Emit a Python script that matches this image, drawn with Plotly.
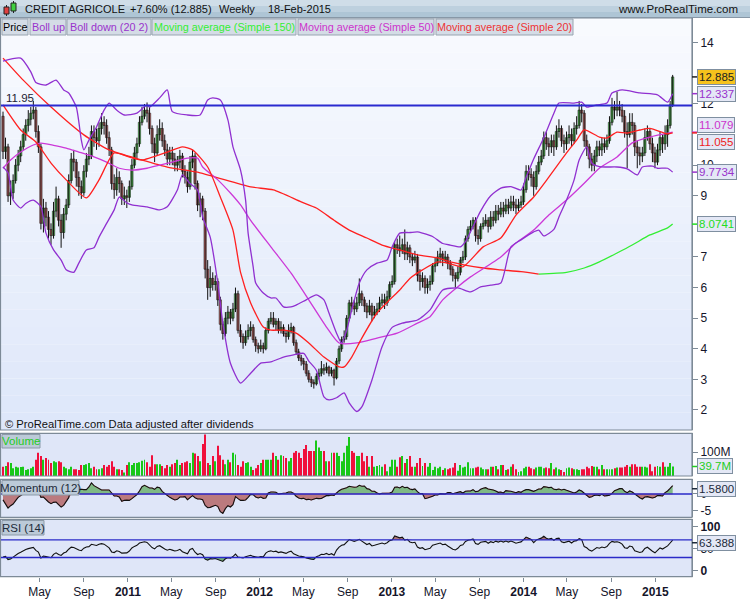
import numpy as np
import pandas as pd
import plotly.graph_objects as go

# ---------------- data ----------------
START_DATE = "2010-01-20"
FIRST_OPEN = 11.6
# weeks before the visible range, needed only for momentum / RSI warm-up (estimated)
PRE_CLOSE = [12.8, 12.4, 12.2, 13.4, 13.2, 12.6, 12.5, 12.0, 11.3, 11.1, 11.0, 11.3, 11.5, 11.7]

CLOSE = [
    10.45, 10.6, 9.0, 9.1, 9.5, 10.0, 10.3, 10.6, 11.0, 11.3,
    11.5, 11.7, 11.8, 11.1, 10.6, 8.1, 8.6, 8.3, 7.9, 7.7,
    8.5, 8.9, 8.2, 7.8, 8.4, 8.7, 9.5, 10.2, 10.1, 9.6,
    9.3, 9.1, 9.8, 10.2, 10.3, 11.1, 10.9, 10.8, 11.2, 11.4,
    11.3, 10.9, 10.5, 9.4, 9.2, 9.6, 9.4, 8.9, 9.0, 8.95,
    9.3, 10.0, 10.4, 10.7, 11.4, 11.6, 11.8, 11.7, 11.2, 10.7,
    10.4, 11.0, 11.2, 10.8, 10.5, 10.2, 10.4, 10.2, 10.0, 10.1,
    10.3, 9.8, 9.6, 9.3, 10.1, 10.3, 9.4, 8.7, 8.9, 8.5,
    6.6, 6.0, 6.3, 6.1, 6.2, 5.6, 4.8, 4.5, 5.0, 5.2,
    5.0, 5.3, 5.8, 4.6, 4.4, 4.2, 4.4, 4.6, 4.7, 4.3,
    4.1, 4.0, 4.1, 4.0, 4.6, 4.9, 5.0, 4.8, 4.9, 4.6,
    4.7, 4.5, 4.4, 4.6, 4.7, 4.2, 3.9, 3.7, 3.6, 3.5,
    3.2, 3.0, 2.9, 2.85, 3.1, 3.2, 3.35, 3.3, 3.4, 3.2,
    3.3, 3.05, 3.6, 4.0, 4.3, 4.4, 5.0, 5.5, 5.4, 5.3,
    5.5, 5.8, 5.6, 5.4, 5.2, 5.4, 5.1, 5.2, 5.3, 5.5,
    5.6, 5.5, 5.7, 6.1, 6.2, 7.4, 7.3, 7.2, 7.4, 7.1,
    7.3, 7.0, 6.9, 7.0, 6.4, 6.2, 6.3, 6.0, 6.1, 6.2,
    6.7, 6.8, 7.0, 7.1, 6.9, 7.0, 6.8, 6.6, 6.4, 6.3,
    6.5, 6.9, 7.0, 7.6, 7.9, 8.0, 8.2, 7.7, 7.6, 8.0,
    8.1, 8.2, 8.0, 8.3, 8.2, 8.5, 8.4, 8.6, 8.5, 8.7,
    8.6, 8.8, 8.7, 8.6, 8.7, 8.8, 9.2, 9.8, 9.7, 9.6,
    9.3, 9.8, 10.1, 10.3, 10.9, 10.7, 10.6, 10.8, 10.6, 11.1,
    11.2, 10.8, 10.7, 10.9, 11.0, 10.8, 11.2, 11.3, 11.8, 11.7,
    10.8, 10.6, 10.2, 10.0, 10.3, 10.6, 10.5, 10.7, 10.6, 10.8,
    11.4, 11.9, 11.8, 11.9, 11.8, 11.6, 11.1, 11.0, 11.4, 11.3,
    10.6, 10.4, 10.3, 10.4, 10.9, 11.1, 10.7, 10.4, 10.1, 10.5,
    10.9, 10.7, 11.0, 11.3, 11.97, 12.885,
]
HIGH = [
    11.75, 10.9, 10.7, 9.5, 9.7, 10.2, 10.5, 10.8, 11.2, 11.5,
    11.8, 11.9, 12.1, 11.9, 11.3, 10.7, 8.9, 8.8, 8.5, 8.1,
    8.8, 9.3, 9.0, 8.4, 8.6, 8.9, 9.7, 10.4, 10.5, 10.2,
    9.8, 9.5, 10.0, 10.4, 10.6, 11.3, 11.3, 11.2, 11.4, 11.7,
    11.6, 11.5, 11.1, 10.6, 9.7, 9.9, 9.8, 9.5, 9.3, 9.2,
    9.5, 10.2, 10.6, 10.9, 11.6, 11.9, 12.0, 12.05, 11.9, 11.3,
    10.9, 11.3, 11.5, 11.4, 11.0, 10.7, 10.6, 10.6, 10.4, 10.3,
    10.5, 10.4, 10.0, 9.8, 10.3, 10.5, 10.4, 9.5, 9.1, 9.0,
    8.6, 6.9, 6.7, 6.5, 6.4, 6.3, 5.7, 4.9, 5.2, 5.4,
    5.3, 5.5, 6.0, 5.9, 4.8, 4.5, 4.6, 4.8, 4.9, 4.8,
    4.4, 4.2, 4.3, 4.2, 4.7, 5.0, 5.2, 5.2, 5.0, 5.0,
    4.9, 4.8, 4.6, 4.8, 4.85, 4.75, 4.3, 4.0, 3.8, 3.7,
    3.6, 3.3, 3.1, 3.0, 3.2, 3.35, 3.6, 3.5, 3.55, 3.45,
    3.4, 3.35, 3.7, 4.1, 4.4, 4.6, 5.1, 5.6, 5.7, 5.6,
    5.7, 6.3, 5.9, 5.7, 5.5, 5.6, 5.5, 5.4, 5.5, 5.7,
    5.8, 5.8, 5.9, 6.2, 6.4, 7.5, 7.6, 7.7, 7.6, 7.9,
    7.5, 7.4, 7.1, 7.2, 7.1, 6.6, 6.5, 6.4, 6.3, 6.4,
    6.8, 7.0, 7.2, 7.3, 7.2, 7.2, 7.1, 6.9, 6.7, 6.5,
    6.7, 7.0, 7.2, 7.7, 8.0, 8.2, 8.3, 8.3, 7.9, 8.1,
    8.3, 8.4, 8.3, 8.5, 8.5, 8.7, 8.7, 8.8, 8.8, 8.9,
    8.9, 9.0, 9.0, 8.9, 8.9, 9.0, 9.4, 10.0, 10.0, 9.9,
    9.8, 10.0, 10.3, 10.5, 11.1, 11.1, 10.9, 11.0, 11.0, 11.3,
    11.5, 11.3, 11.0, 11.1, 11.3, 11.2, 11.4, 11.6, 12.1, 12.0,
    11.8, 11.0, 10.7, 10.4, 10.5, 10.8, 10.8, 10.9, 10.9, 11.0,
    11.6, 12.2, 12.1, 12.4, 12.1, 12.0, 11.8, 11.4, 11.7, 11.7,
    11.4, 10.8, 10.6, 10.6, 11.2, 11.3, 11.2, 10.9, 10.6, 10.7,
    11.1, 11.0, 11.3, 11.5, 12.1, 12.95,
]
LOW = [
    10.2, 10.2, 8.8, 8.7, 8.9, 9.4, 9.8, 10.1, 10.5, 10.8,
    11.1, 11.3, 11.5, 10.9, 10.4, 7.9, 7.8, 8.0, 7.6, 7.4,
    7.6, 8.3, 8.0, 7.3, 7.6, 8.2, 8.6, 9.4, 9.8, 9.3,
    9.0, 8.9, 9.0, 9.6, 10.0, 10.2, 10.6, 10.5, 10.6, 11.0,
    11.0, 10.7, 10.3, 9.2, 8.9, 9.0, 9.1, 8.7, 8.7, 8.6,
    8.8, 9.2, 9.9, 10.2, 10.6, 11.3, 11.5, 11.4, 11.0, 10.4,
    10.1, 10.3, 10.8, 10.6, 10.3, 10.0, 10.0, 10.0, 9.8, 9.8,
    9.9, 9.6, 9.4, 9.1, 9.2, 9.9, 9.2, 8.5, 8.3, 8.2,
    6.3, 5.6, 5.7, 5.9, 5.9, 5.4, 4.6, 4.3, 4.4, 4.8,
    4.8, 4.9, 5.2, 4.5, 4.2, 4.0, 4.1, 4.3, 4.4, 4.2,
    3.9, 3.85, 3.9, 3.85, 3.95, 4.5, 4.8, 4.7, 4.6, 4.5,
    4.5, 4.4, 4.2, 4.3, 4.5, 4.1, 3.8, 3.6, 3.45, 3.3,
    3.1, 2.9, 2.75, 2.7, 2.8, 3.0, 3.1, 3.15, 3.2, 3.1,
    3.1, 2.8, 3.0, 3.5, 3.9, 4.2, 4.3, 4.9, 5.2, 5.1,
    5.2, 5.4, 5.4, 5.2, 5.0, 5.1, 4.9, 5.0, 5.1, 5.2,
    5.4, 5.3, 5.4, 5.6, 6.0, 6.1, 7.1, 7.0, 7.1, 6.9,
    6.9, 6.8, 6.7, 6.8, 6.2, 5.9, 6.0, 5.8, 5.8, 5.9,
    6.1, 6.5, 6.7, 6.8, 6.7, 6.8, 6.6, 6.4, 6.2, 6.0,
    6.2, 6.4, 6.8, 6.9, 7.5, 7.8, 7.9, 7.5, 7.4, 7.5,
    7.9, 8.0, 7.8, 7.9, 8.0, 8.1, 8.2, 8.3, 8.3, 8.4,
    8.4, 8.5, 8.5, 8.4, 8.5, 8.6, 8.7, 9.1, 9.5, 9.3,
    9.0, 9.2, 9.7, 10.0, 10.2, 10.5, 10.3, 10.4, 10.3, 10.5,
    10.9, 10.6, 10.4, 10.5, 10.7, 10.6, 10.7, 11.0, 11.2, 11.4,
    10.6, 10.3, 9.9, 9.8, 9.8, 10.1, 10.3, 10.3, 10.4, 10.5,
    10.7, 11.3, 11.5, 11.6, 11.6, 11.4, 10.9, 9.9, 10.9, 11.0,
    10.3, 9.9, 10.0, 10.1, 10.3, 10.8, 10.5, 10.1, 9.9, 10.0,
    10.3, 10.4, 10.5, 10.6, 11.2, 11.9,
]
VOLUME_M = [
    39, 42, 57, 54, 32, 39, 35, 37, 39,
    25, 28, 32, 39, 68, 97, 83, 68, 75, 68,
    54, 61, 57, 61, 57, 39, 32, 28, 39, 28,
    28, 25, 46, 46, 49, 54, 32, 39, 28, 28,
    32, 46, 39, 46, 61, 39, 28, 28, 25,
    15, 46, 57, 46, 54, 54, 57, 64, 68, 57,
    39, 86, 49, 49, 49, 42, 32, 46, 39, 49,
    54, 68, 46, 54, 57, 61, 54, 97, 94, 83,
    61, 133, 173, 54, 46, 83, 61, 126, 86, 68,
    49, 68, 57, 97, 90, 46, 39, 61, 54, 57,
    39, 25, 32, 46, 54, 68, 68, 68, 68, 97,
    83, 68, 86, 83, 75, 61, 75, 97, 104, 97,
    75, 112, 129, 104, 104, 104, 148, 119, 104, 104,
    61, 61, 97, 97, 97, 83, 61, 97, 126, 162,
    104, 97, 83, 83, 97, 61, 83, 39, 83,
    39, 42, 46, 39, 49, 20, 39, 68, 68, 39,
    78, 83, 54, 71, 83, 39, 39, 54, 75, 42,
    54, 39, 54, 25, 39, 32, 39, 25, 32, 28,
    32, 35, 54, 22, 46, 35, 39, 57, 32, 32,
    35, 39, 35, 28, 28, 28, 39, 39, 42, 28,
    46, 46, 25, 28, 39, 49, 28, 17, 20, 32,
    39, 39, 32, 28, 35, 39, 39, 32, 35, 32,
    54, 28, 35, 28, 25, 17, 32, 35, 32, 28,
    28, 25, 28, 28, 39, 32, 42, 39, 39, 28,
    46, 28, 28, 28, 28, 32, 35, 35, 35, 39,
    46, 39, 49, 49, 39, 39, 39, 39, 35, 49,
    20, 39, 42, 39, 57, 39, 39, 54, 39.7,
]

# indicator lines: week index -> value
BB_UP_W = [0, 7, 11, 13, 17, 21, 24, 26, 29, 31, 32, 34, 37, 40, 42, 45, 48, 53, 57, 58,
           62, 65, 67, 73, 78, 81, 83, 86, 89, 91, 94, 96, 97, 99, 100, 103, 106, 108, 111, 114,
           116, 120, 124, 127, 129, 132, 134, 136, 138, 141, 144, 148, 152, 154, 157, 161, 164, 166, 170, 174,
           177, 181, 183, 185, 189, 193, 197, 201, 205, 207, 210, 214, 218, 220, 226, 229, 231, 235, 239, 241,
           245, 252, 259, 263, 265]
BB_UP_V = [13.4, 13.5, 13.05, 12.7, 12.62, 12.78, 12.46, 12.36, 11.9, 10.82, 10.5, 10.82, 11.25, 11.8, 12.03, 11.8, 11.64, 11.7, 11.97, 11.9,
           12.2, 12.46, 11.75, 11.64, 11.64, 12.13, 12.2, 12.13, 11.48, 10.6, 9.84, 8.86, 7.78, 6.68, 6.15, 5.82, 5.66, 5.66, 5.37, 5.37,
           5.43, 5.6, 5.76, 5.6, 5.17, 4.51, 4.19, 4.6, 5.27, 6.15, 6.58, 6.8, 6.9, 7.33, 7.78, 7.8, 7.82, 7.78, 7.67, 7.44,
           7.39, 7.33, 7.5, 7.82, 8.5, 9.0, 9.25, 9.3, 9.19, 9.6, 10.2, 10.9, 11.7, 12.03, 12.03, 12.06, 11.9, 11.97, 12.03, 12.36,
           12.46, 12.36, 12.3, 12.06, 12.337]
BB_LO_W = [0, 2, 4, 7, 9, 12, 15, 17, 20, 23, 25, 28, 30, 33, 36, 38, 41, 44, 46, 49,
           51, 57, 62, 65, 69, 71, 74, 77, 79, 82, 85, 87, 90, 94, 98, 102, 106, 111, 115, 119,
           121, 124, 127, 129, 132, 135, 137, 140, 142, 146, 150, 154, 158, 164, 169, 174, 180, 185, 189, 193,
           197, 201, 205, 210, 212, 214, 218, 220, 223, 226, 228, 231, 233, 236, 239, 243, 247, 251, 253, 257,
           259, 263, 265]
BB_LO_V = [9.94, 9.75, 8.86, 8.6, 8.75, 8.86, 8.64, 7.78, 7.23, 6.9, 6.58, 6.5, 6.8, 7.23, 7.3, 7.65, 8.1, 8.54, 8.96, 8.77,
           8.7, 8.64, 8.54, 8.64, 9.19, 9.68, 9.4, 9.19, 8.31, 7.65, 6.15, 4.84, 3.53, 2.88, 3.2, 3.53, 3.57, 3.73, 3.8, 3.85,
           3.6, 3.3, 2.43, 2.33, 2.4, 2.56, 2.23, 1.95, 2.1, 2.98, 4.07, 4.7, 4.84, 4.94, 5.27, 5.92, 5.99, 5.86, 6.02, 6.08,
           6.15, 7.33, 7.56, 7.82, 7.88, 7.69, 7.9, 8.31, 8.86, 9.52, 10.17, 10.6, 10.07, 9.95, 9.94, 9.94, 9.88, 9.68, 9.94, 9.97,
           9.9, 9.9, 9.7734]
MA50_W = [0, 3, 7, 12, 15, 20, 25, 30, 36, 41, 46, 51, 57, 62, 67, 73, 77, 79, 85, 90,
          94, 98, 106, 114, 121, 128, 133, 140, 148, 156, 164, 169, 174, 180, 185, 197, 203, 210, 216, 223,
          230, 236, 243, 249, 256, 265]
MA50_V = [9.9, 10.17, 10.43, 10.66, 10.72, 10.65, 10.56, 10.43, 10.27, 10.1, 9.9, 9.84, 9.9, 10.0, 10.1, 10.23, 10.23, 9.94, 9.52, 9.09,
          8.7, 8.2, 7.33, 6.47, 5.6, 4.71, 4.19, 4.19, 4.35, 4.51, 4.84, 5.05, 5.6, 6.03, 6.35, 7.0, 7.46, 7.88, 8.37, 8.86,
          9.41, 9.9, 10.27, 10.73, 10.92, 11.079]
MA20_W = [0, 7, 13, 19, 25, 33, 38, 44, 51, 55, 65, 71, 75, 81, 86, 91, 94, 98, 103, 106,
          111, 116, 121, 127, 133, 135, 138, 142, 148, 153, 157, 161, 166, 172, 176, 182, 190, 197, 203, 210,
          216, 223, 227, 230, 236, 239, 243, 247, 252, 256, 263, 265]
MA20_V = [11.97, 11.15, 10.76, 10.07, 9.52, 8.93, 9.52, 10.4, 10.24, 10.17, 10.43, 10.6, 10.5, 9.94, 8.96, 7.88, 6.5, 5.5, 4.71, 4.61,
          4.61, 4.51, 4.19, 3.73, 3.41, 3.41, 3.73, 4.35, 5.17, 5.6, 5.92, 6.3, 6.58, 6.84, 6.8, 6.68, 7.33, 7.62, 8.37, 8.96,
          9.61, 10.4, 10.82, 11.15, 10.92, 10.89, 11.08, 11.05, 11.15, 11.2, 11.02, 11.055]
MA150_W = [0, 8, 19, 32, 42, 55, 65, 78, 98, 107, 118, 124, 131, 137, 144, 150, 157, 164, 172, 177,
           190, 197, 205, 212, 223, 230, 236, 243, 249, 256, 263, 265]
MA150_V = [13.5, 12.78, 11.9, 10.99, 10.5, 10.17, 9.94, 9.75, 9.29, 9.19, 8.8, 8.6, 8.2, 7.88, 7.62, 7.39, 7.23, 7.07, 6.97, 6.84,
           6.64, 6.58, 6.52, 6.44, 6.5, 6.64, 6.84, 7.13, 7.39, 7.72, 7.95, 8.0741]

RESISTANCE = 11.95
PRICE_TICKS = [2, 3, 4, 5, 6, 7, 9, 10, 12, 14]   # 8, 11 and 13 sit under the value boxes
X_TICK_DATES = ["2010-05-01", "2010-09-01", "2011-01-01", "2011-05-01", "2011-09-01", "2012-01-01",
                "2012-05-01", "2012-09-01", "2013-01-01", "2013-05-01", "2013-09-01", "2014-01-01",
                "2014-05-01", "2014-09-01", "2015-01-01"]
X_TICK_TEXT = ["May", "Sep", "<b>2011</b>", "May", "Sep", "<b>2012</b>", "May", "Sep", "<b>2013</b>",
               "May", "Sep", "<b>2014</b>", "May", "Sep", "<b>2015</b>"]

# ---------------- derived series ----------------
dates = pd.date_range(START_DATE, periods=len(CLOSE), freq="7D")
opens = [FIRST_OPEN] + CLOSE[:-1]
allc = np.array(PRE_CLOSE + CLOSE, dtype=float)
npre = len(PRE_CLOSE)
n = len(CLOSE)
mom = np.array([allc[npre + i] - allc[npre + i - 12] for i in range(n)])
d = np.diff(allc)
g = np.where(d > 0, d, 0.0)
l = np.where(d < 0, -d, 0.0)
ag, al = g[:14].mean(), l[:14].mean()
rsi = []
for k in range(14, 14 + n):
    if k > 14:
        ag = (ag * 13 + g[k - 1]) / 14
        al = (al * 13 + l[k - 1]) / 14
    rsi.append(100 - 100 / (1 + ag / al) if al > 0 else 100)
rsi = np.array(rsi)
up = [c >= o for o, c in zip(opens, CLOSE)]
vol_colors = ["#18c818" if u else "#f0103c" for u in up]
body_colors = ["#5ee05e" if u else "#e87a7a" for u in up]
body_base = [min(o, c) for o, c in zip(opens, CLOSE)]
body_h = [max(abs(c - o), 0.03) for o, c in zip(opens, CLOSE)]
wick_x, wick_y = [], []
for dt, lo, hi in zip(dates, LOW, HIGH):
    wick_x += [dt, dt, None]
    wick_y += [lo, hi, None]

# ---------------- geometry helpers ----------------
W, H = 750, 600
FONT = "Liberation Sans, Arial, sans-serif"
TXT = "#15152a"
def fx(p): return p / W
def fy(p): return 1 - p / H

X0, X1 = 1, 692
t0 = pd.Timestamp(START_DATE)
day_per_px = 7 / 2.527
WEEK_MS = 7 * 24 * 3600 * 1000
xr = [t0 + pd.Timedelta(days=(X0 - 3) * day_per_px), t0 + pd.Timedelta(days=(X1 - 3) * day_per_px)]
MAIN = (18, 430); VOLP = (433.3, 476); MOMP = (479.3, 517.3); RSIP = (519.3, 576.7)
def dom(p): return [fy(p[1]), fy(p[0])]

fig = go.Figure()
# ----- main panel: candles -----
fig.add_trace(go.Scatter(x=wick_x, y=wick_y, mode="lines", line=dict(color="#111111", width=1),
                         showlegend=False, hoverinfo="skip", xaxis="x", yaxis="y"))
fig.add_trace(go.Bar(x=dates, y=body_h, base=body_base, width=WEEK_MS * 0.92,
                     marker=dict(color=body_colors, line=dict(color="#111111", width=0.55)),
                     showlegend=False, hoverinfo="skip", xaxis="x", yaxis="y"))
def line(wk, vals, color, xa="x", ya="y", width=1.3):
    fig.add_trace(go.Scatter(x=dates[wk], y=vals, mode="lines", xaxis=xa, yaxis=ya, showlegend=False,
                             hoverinfo="skip", line=dict(color=color, width=width, shape="spline", smoothing=0.6)))
imin = int(np.argmin(MA150_V))
line(MA150_W[:imin + 1], MA150_V[:imin + 1], "#ff2020")
line(MA150_W[imin:], MA150_V[imin:], "#33ee33")
line(MA50_W, MA50_V, "#cc38d8")
line(BB_UP_W, BB_UP_V, "#9030d0")
line(BB_LO_W, BB_LO_V, "#9030d0")
line(MA20_W, MA20_V, "#ff2020")

# ----- volume -----
fig.add_trace(go.Bar(x=dates, y=VOLUME_M, marker=dict(color=vol_colors, line=dict(width=0)),
                     width=WEEK_MS * 0.38, showlegend=False, hoverinfo="skip",
                     xaxis="x2", yaxis="y2"))
# ----- momentum -----
fig.add_trace(go.Scatter(x=dates, y=np.where(mom > 0, mom, 0), fill="tozeroy", mode="lines",
                         line=dict(width=0.6, color="#e05050"), fillcolor="rgba(95,170,95,0.75)",
                         showlegend=False, hoverinfo="skip", xaxis="x3", yaxis="y3"))
fig.add_trace(go.Scatter(x=dates, y=np.where(mom < 0, mom, 0), fill="tozeroy", mode="lines",
                         line=dict(width=0.6, color="#e05050"), fillcolor="rgba(175,85,85,0.75)",
                         showlegend=False, hoverinfo="skip", xaxis="x3", yaxis="y3"))
fig.add_trace(go.Scatter(x=dates, y=mom, mode="lines", line=dict(color="#111111", width=1.1),
                         showlegend=False, hoverinfo="skip", xaxis="x3", yaxis="y3"))
# ----- RSI -----
for lvl, arr, col in [(70, np.maximum(rsi, 70), "rgba(160,90,90,0.8)"), (30, np.minimum(rsi, 30), "rgba(90,165,90,0.8)")]:
    fig.add_trace(go.Scatter(x=dates, y=[lvl] * n, mode="lines", line=dict(width=0), showlegend=False,
                             hoverinfo="skip", xaxis="x4", yaxis="y4"))
    fig.add_trace(go.Scatter(x=dates, y=arr, mode="lines", line=dict(width=0), fill="tonexty", fillcolor=col,
                             showlegend=False, hoverinfo="skip", xaxis="x4", yaxis="y4"))
fig.add_trace(go.Scatter(x=dates, y=rsi, mode="lines", line=dict(color="#111111", width=1.1),
                         showlegend=False, hoverinfo="skip", xaxis="x4", yaxis="y4"))

# ---------------- axes ----------------
xcommon = dict(domain=[fx(X0), fx(X1)], range=xr, type="date", showgrid=False, zeroline=False,
               showline=False, showticklabels=False, ticks="")
yfont = dict(family=FONT, size=12, color=TXT)
ycommon = dict(side="right", showgrid=False, zeroline=False, showline=True, linecolor="#7d8a97",
               linewidth=1, ticks="outside", ticklen=5, tickcolor="#7d8a97", tickfont=yfont, fixedrange=True)
fig.update_layout(
    xaxis=dict(**xcommon, anchor="y"),
    xaxis2=dict(**xcommon, anchor="y2", matches="x"),
    xaxis3=dict(**xcommon, anchor="y3", matches="x"),
    xaxis4=dict(**{**xcommon, "showticklabels": True, "ticks": "outside"}, anchor="y4", matches="x",
                tickvals=X_TICK_DATES, ticktext=X_TICK_TEXT, ticklen=4, tickcolor="#7d8a97",
                tickfont=dict(family=FONT, size=12, color=TXT)),
    yaxis=dict(**ycommon, domain=dom(MAIN), anchor="x", range=[1.346, 14.81],
               tickvals=PRICE_TICKS, ticktext=[str(v) for v in PRICE_TICKS]),
    yaxis2=dict(**ycommon, domain=dom(VOLP), anchor="x2", range=[0, 177.9], tickvals=[100], ticktext=["100M"]),
    yaxis3=dict(**ycommon, domain=dom(MOMP), anchor="x3", range=[-6.98, 4.40], tickvals=[-5, 0], ticktext=["-5", "0"]),
    yaxis4=dict(**ycommon, domain=dom(RSIP), anchor="x4", range=[-13.6, 116.8], tickvals=[0, 50, 100],
                ticktext=["<b>0</b>", "50", "<b>100</b>"]),
)

# ---------------- shapes ----------------
shapes = []
nb = 24
top_c, bot_c = np.array([249, 251, 255]), np.array([222, 231, 250])
for i in range(nb):
    c = top_c + (bot_c - top_c) * (i + 0.5) / nb
    y0 = MAIN[0] + (MAIN[1] - MAIN[0]) * i / nb
    y1 = MAIN[0] + (MAIN[1] - MAIN[0]) * (i + 1) / nb
    shapes.append(dict(type="rect", xref="paper", yref="paper", x0=fx(X0), x1=fx(X1), y0=fy(y1), y1=fy(y0),
                       fillcolor="rgb(%d,%d,%d)" % tuple(c), line=dict(width=0), layer="below"))
for p in (VOLP, MOMP, RSIP):
    shapes.append(dict(type="rect", xref="paper", yref="paper", x0=fx(X0), x1=fx(X1), y0=fy(p[1]), y1=fy(p[0]),
                       fillcolor="#dfe6f8", line=dict(width=0), layer="below"))
for p in (MAIN, VOLP, MOMP, RSIP):
    shapes.append(dict(type="rect", xref="paper", yref="paper", x0=fx(0.5), x1=fx(X1), y0=fy(p[1]), y1=fy(p[0]),
                       fillcolor="rgba(0,0,0,0)", line=dict(width=1.2, color="#7d8a97"), layer="above"))
shapes.append(dict(type="line", xref="paper", yref="y", x0=fx(X0), x1=fx(X1), y0=RESISTANCE, y1=RESISTANCE,
                   line=dict(color="#2a2ad0", width=2.2)))
shapes.append(dict(type="line", xref="paper", yref="y3", x0=fx(X0), x1=fx(X1), y0=0, y1=0,
                   line=dict(color="#2a2ac8", width=1.4)))
for lvl in (70, 30):
    shapes.append(dict(type="line", xref="paper", yref="y4", x0=fx(X0), x1=fx(X1), y0=lvl, y1=lvl,
                       line=dict(color="#2a2ac8", width=1.4)))
hb = [(0, 6, "#cfdde8"), (6, 12, "#bdd0de"), (12, 17.5, "#aec5d5")]
for a, b, c in hb:
    shapes.append(dict(type="rect", xref="paper", yref="paper", x0=0, x1=1, y0=fy(b), y1=fy(a),
                       fillcolor=c, line=dict(width=0), layer="above"))
shapes.append(dict(type="line", xref="paper", yref="paper", x0=0, x1=1, y0=fy(17.5), y1=fy(17.5),
                   line=dict(color="#8797a6", width=1)))
shapes += [
    dict(type="line", xref="paper", yref="paper", x0=fx(6.5), x1=fx(6.5), y0=fy(16), y1=fy(5), line=dict(color="#222", width=1)),
    dict(type="rect", xref="paper", yref="paper", x0=fx(4), x1=fx(9), y0=fy(14), y1=fy(7), fillcolor="#e04040", line=dict(color="#222", width=1)),
    dict(type="line", xref="paper", yref="paper", x0=fx(13.5), x1=fx(13.5), y0=fy(13), y1=fy(1), line=dict(color="#222", width=1)),
    dict(type="rect", xref="paper", yref="paper", x0=fx(11), x1=fx(16), y0=fy(11), y1=fy(3), fillcolor="#40d040", line=dict(color="#222", width=1)),
]
LEG = [(2, 28, "Price", "#000000"), (30, 66, "Boll up", "#9933cc"), (67, 151, "Boll down (20 2)", "#9933cc"),
       (152, 296, "Moving average (Simple 150)", "#33ee33"), (298, 434, "Moving average (Simple 50)", "#cc33cc"),
       (436, 573, "Moving average (Simple 20)", "#ee3333")]
annotations = []
for a, b, t, c in LEG:
    shapes.append(dict(type="rect", xref="paper", yref="paper", x0=fx(a), x1=fx(b), y0=fy(35), y1=fy(19),
                       fillcolor="#d4dce6", line=dict(color="#98a4b0", width=1), layer="above"))
    annotations.append(dict(xref="paper", yref="paper", x=fx((a + b) / 2), y=fy(27), text=t, showarrow=False,
                            xanchor="center", yanchor="middle", font=dict(family=FONT, size=10.8, color=c)))
for a, b, y0, y1, t, c in [(2, 40, 434.5, 448, "Volume", "#22cc22"), (2, 79, 480.5, 495, "Momentum (12)", "#1c2a3a"),
                           (2, 44, 520.5, 535, "RSI (14)", "#1c2a3a")]:
    shapes.append(dict(type="rect", xref="paper", yref="paper", x0=fx(a), x1=fx(b), y0=fy(y1), y1=fy(y0),
                       fillcolor="#bccad8", line=dict(color="#8c9aa8", width=1), layer="above"))
    annotations.append(dict(xref="paper", yref="paper", x=fx((a + b) / 2), y=fy((y0 + y1) / 2), text=t,
                            showarrow=False, xanchor="center", yanchor="middle",
                            font=dict(family=FONT, size=11.5, color=c)))

for x, t in [(23, "CREDIT AGRICOLE"), (128, "+7.60% (12.885)"), (217, "Weekly"), (266, "18-Feb-2015")]:
    annotations.append(dict(xref="paper", yref="paper", x=fx(x), y=fy(9), text=t, showarrow=False,
                            xanchor="left", yanchor="middle", font=dict(family=FONT, size=11, color="#111")))
annotations.append(dict(xref="paper", yref="paper", x=fx(740), y=fy(9), text="www.ProRealTime.com", showarrow=False,
                        xanchor="right", yanchor="middle", font=dict(family=FONT, size=11.5, color="#111")))
annotations.append(dict(xref="paper", yref="y", x=fx(4), y=RESISTANCE, yshift=8, text="11.95", showarrow=False,
                        xanchor="left", yanchor="middle", font=dict(family=FONT, size=11.5, color="#223")))
annotations.append(dict(xref="paper", yref="paper", x=fx(3), y=fy(424), text="© ProRealTime.com Data adjusted after dividends",
                        showarrow=False, xanchor="left", yanchor="middle", font=dict(family=FONT, size=11.2, color="#111")))

VAL = [("y", CLOSE[-1], "12.885", "#222222", "#f6c21c", 0),
       ("y", BB_UP_V[-1], "12.337", "#9933cc", "#e4e8f6", 0),
       ("y", MA50_V[-1], "11.079", "#cc33cc", "#e4e8f6", 7),
       ("y", MA20_V[-1], "11.055", "#ee2222", "#e4e8f6", -9),
       ("y", BB_LO_V[-1], "9.7734", "#9933cc", "#e4e8f6", 0),
       ("y", MA150_V[-1], "8.0741", "#22dd22", "#e4e8f6", 0),
       ("y2", VOLUME_M[-1], "39.7M", "#22cc22", "#e4e8f6", 0),
       ("y3", 1.58, "1.5800", "#1c2a3a", "#e4e8f6", 0),
       ("y4", 63.388, "63.388", "#1c2a3a", "#e4e8f6", 0)]
for ya, v, t, c, bg, sh in VAL:
    shapes.append(dict(type="line", xref="paper", yref=ya, x0=fx(692), x1=fx(697), y0=v, y1=v,
                       line=dict(color=c, width=1.5)))
    annotations.append(dict(xref="paper", yref=ya, x=fx(697), y=v, yshift=sh, text=t, showarrow=False,
                            xanchor="left", yanchor="middle", bgcolor=bg, bordercolor="#7f8fa0", borderwidth=1,
                            borderpad=1, font=dict(family=FONT, size=11.5, color=c)))

fig.update_layout(width=W, height=H, margin=dict(l=0, r=0, t=0, b=0), paper_bgcolor="#ffffff",
                  plot_bgcolor="rgba(0,0,0,0)", shapes=shapes, annotations=annotations,
                  showlegend=False, barmode="overlay", font=dict(family=FONT))
fig.write_html("out.html", config={"displayModeBar": False},
               post_script="document.body.style.margin='0';document.body.style.padding='0';")
